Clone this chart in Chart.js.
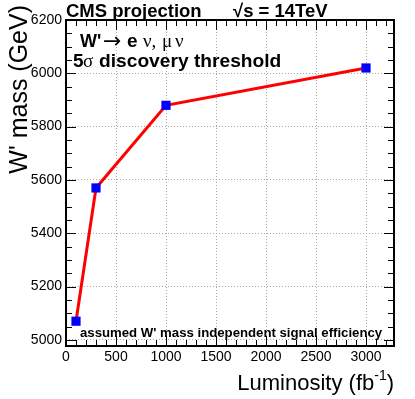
<!DOCTYPE html>
<html>
<head>
<meta charset="utf-8">
<script src="https://cdn.jsdelivr.net/npm/chart.js@4"></script>
<style>
  html, body { margin: 0; padding: 0; background: #fff; }
  #wrap { width: 415px; height: 399px; }
</style>
</head>
<body>
<div id="wrap"><canvas id="myChart"></canvas></div>
<script>
const luminosity = [100, 300, 1000, 3000];
const wMass = [5070, 5570, 5880, 6020];
const xTicks = [0, 500, 1000, 1500, 2000, 2500, 3000];
const yTicks = [5000, 5200, 5400, 5600, 5800, 6000, 6200];

const FONT = "'Liberation Sans', Arial, sans-serif";
const SERIF = "'Liberation Serif', 'Times New Roman', serif";

// ROOT-style frame, inside ticks and text labels
const rootStyle = {
  id: "rootStyle",
  afterDraw(chart) {
    const { ctx, chartArea: a, scales } = chart;
    const x = scales.x, y = scales.y;
    ctx.save();
    ctx.strokeStyle = "#000";
    ctx.lineWidth = 1;
    // x ticks (bottom and top)
    for (let v = 0; v <= x.max; v += 100) {
      const px = Math.round(x.getPixelForValue(v)) + 0.5;
      const len = v % 500 === 0 ? 10 : 6;
      ctx.beginPath();
      ctx.moveTo(px, a.bottom); ctx.lineTo(px, a.bottom - len);
      ctx.moveTo(px, a.top); ctx.lineTo(px, a.top + len);
      ctx.stroke();
    }
    // y ticks (left and right)
    for (let v = 5000; v <= y.max; v += 50) {
      const py = Math.round(y.getPixelForValue(v)) + 0.5;
      const len = v % 200 === 0 ? 10 : 6;
      ctx.beginPath();
      ctx.moveTo(a.left, py); ctx.lineTo(a.left + len, py);
      ctx.moveTo(a.right, py); ctx.lineTo(a.right - len, py);
      ctx.stroke();
    }
    ctx.lineWidth = 2;
    ctx.strokeRect(a.left, a.top, a.right - a.left, a.bottom - a.top);

    ctx.fillStyle = "#000";
    ctx.textBaseline = "alphabetic";
    ctx.font = "bold 18.5px " + FONT;
    ctx.fillText("CMS projection", 66, 17);
    ctx.fillText("\u221As = 14TeV", 233, 17);

    // W' -> e nu, mu nu
    ctx.font = "bold 18px " + FONT;
    ctx.fillText("W'", 80, 47);
    ctx.font = "22px 'DejaVu Sans', sans-serif";
    ctx.fillText("\u2192", 103, 48);
    ctx.font = "bold 19px " + FONT;
    ctx.fillText("e", 127, 47);
    ctx.font = "19px " + SERIF;
    ctx.fillText("\u03BD,", 143, 47);
    ctx.fillText("\u03BC", 162, 47);
    ctx.fillText("\u03BD", 175, 47);

    // 5 sigma discovery threshold
    ctx.font = "bold 19px " + FONT;
    ctx.fillText("5", 73, 67);
    ctx.font = "19px " + SERIF;
    ctx.fillText("\u03C3", 83, 67);
    ctx.font = "bold 19.2px " + FONT;
    ctx.fillText("discovery threshold", 99, 67);

    ctx.font = "bold 13.2px " + FONT;
    ctx.fillText("assumed W' mass independent signal efficiency", 80, 337);

    // x title
    const sup = "-1";
    ctx.textAlign = "right";
    ctx.font = "14px " + FONT;
    const supW = ctx.measureText(sup).width;
    ctx.font = "22px " + FONT;
    const closeW = ctx.measureText(")").width;
    ctx.fillText(")", 394, 390);
    ctx.font = "14px " + FONT;
    ctx.fillText(sup, 394 - closeW, 380);
    ctx.font = "22px " + FONT;
    ctx.fillText("Luminosity (fb", 394 - closeW - supW, 390);

    // y title
    ctx.save();
    ctx.translate(27, 5);
    ctx.rotate(-Math.PI / 2);
    ctx.textAlign = "right";
    ctx.font = "25px " + FONT;
    ctx.fillText("W' mass (GeV)", 0, 0);
    ctx.restore();
    ctx.restore();
  }
};

new Chart(document.getElementById("myChart"), {
  type: "line",
  data: {
    datasets: [
      {
        label: "5 sigma discovery",
        data: luminosity.map((l, i) => ({ x: l, y: wMass[i] })),
        borderColor: "#ff0000",
        borderWidth: 3,
        pointStyle: "rect",
        pointRadius: 6.5,
        pointHoverRadius: 6.5,
        pointBackgroundColor: "#0000ff",
        pointBorderColor: "#0000ff",
        pointBorderWidth: 0,
        tension: 0,
      },
    ],
  },
  options: {
    responsive: true,
    maintainAspectRatio: false,
    animation: false,
    events: [],
    layout: { padding: { left: 0, right: 21, top: 20, bottom: 0 } },
    plugins: {
      legend: { display: false },
      tooltip: { enabled: false },
    },
    scales: {
      x: {
        type: "linear",
        min: 0,
        max: 3280,
        afterBuildTicks: (s) => { s.ticks = xTicks.map((v) => ({ value: v })); },
        afterFit: (s) => { s.height = 53; },
        ticks: {
          padding: 3,
          color: "#000",
          maxRotation: 0,
          font: { family: FONT, size: 14 },
          callback: (v) => String(v),
        },
        grid: { color: "#aaa", lineWidth: 1, drawTicks: false },
        border: { display: false, dash: [1, 2] },
      },
      y: {
        type: "linear",
        min: 4977,
        max: 6200,
        afterBuildTicks: (s) => { s.ticks = yTicks.map((v) => ({ value: v })); },
        afterFit: (s) => { s.width = 66; },
        ticks: {
          padding: 4,
          color: "#000",
          font: { family: FONT, size: 14 },
          callback: (v) => String(v),
        },
        grid: { color: "#aaa", lineWidth: 1, drawTicks: false },
        border: { display: false, dash: [1, 2] },
      },
    },
  },
  plugins: [rootStyle],
});
</script>
</body>
</html>
